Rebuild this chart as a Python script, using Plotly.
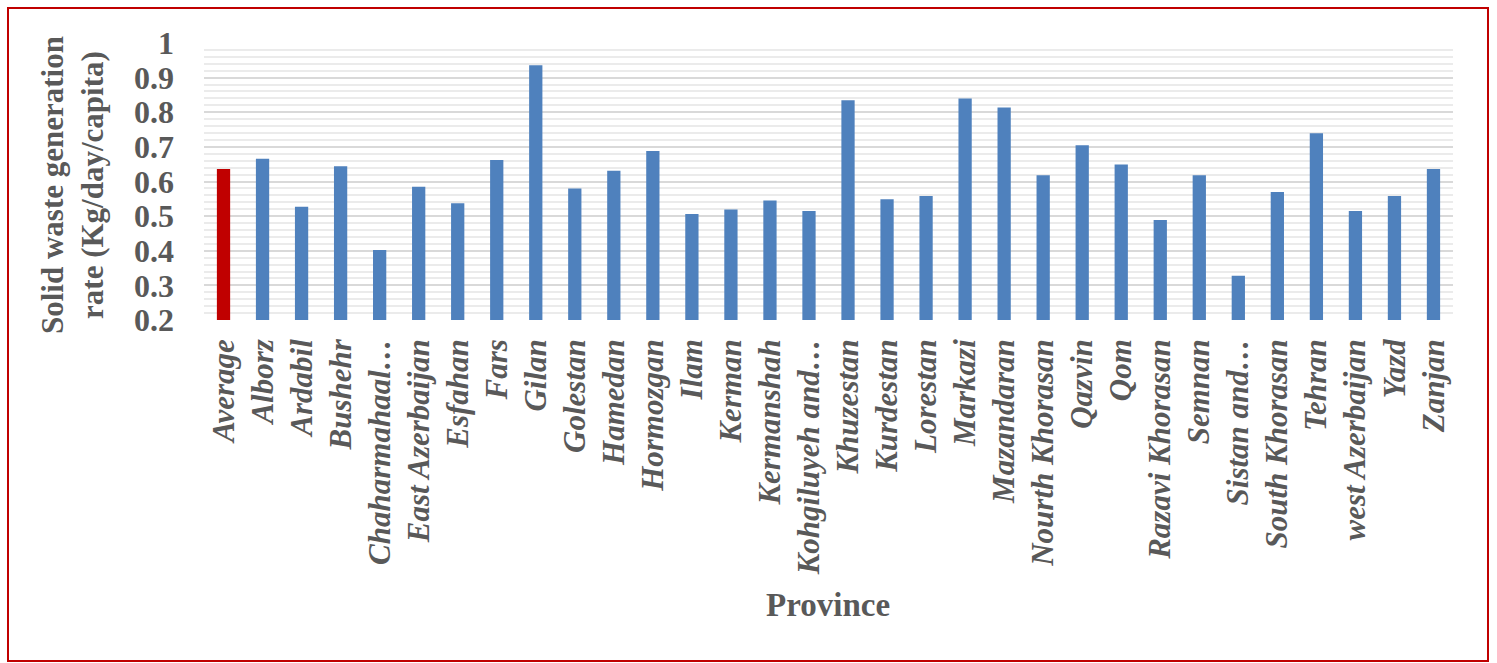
import plotly.graph_objects as go

provinces = ["Average", "Alborz", "Ardabil", "Bushehr", "Chaharmahaal…", "East Azerbaijan",
             "Esfahan", "Fars", "Gilan", "Golestan", "Hamedan", "Hormozgan", "Ilam", "Kerman",
             "Kermanshah", "Kohgiluyeh and…", "Khuzestan", "Kurdestan", "Lorestan", "Markazi",
             "Mazandaran", "Nourth Khorasan", "Qazvin", "Qom", "Razavi Khorasan", "Semnan",
             "Sistan and…", "South Khorasan", "Tehran", "west Azerbaijan", "Yazd", "Zanjan"]
rates = [0.636, 0.666, 0.527, 0.644, 0.402, 0.585,
         0.537, 0.662, 0.936, 0.580, 0.631, 0.688, 0.506, 0.519,
         0.545, 0.515, 0.835, 0.549, 0.558, 0.840,
         0.814, 0.618, 0.705, 0.649, 0.489, 0.618,
         0.328, 0.570, 0.739, 0.515, 0.558, 0.636]
y_ticks = [0.2, 0.3, 0.4, 0.5, 0.6, 0.7, 0.8, 0.9, 1.0]
y_tick_text = ["0.2", "0.3", "0.4", "0.5", "0.6", "0.7", "0.8", "0.9", "1"]

colors = ["#C00000" if p == "Average" else "#4F81BD" for p in provinces]

W, H = 1497, 663
L, R, T, B = 204, 44, 43, 343
pw, ph = W - L - R, H - T - B

def px_x(x):
    return (x - L) / pw

def px_y(y):
    return (H - B - y) / ph

gray = "#595959"
serif = "Liberation Serif, Times New Roman, serif"

fig = go.Figure(go.Bar(x=provinces, y=rates, marker=dict(color=colors, line=dict(width=0)),
                       width=0.34))

fig.update_layout(
    width=W, height=H,
    margin=dict(l=L, r=R, t=T, b=B),
    paper_bgcolor="white", plot_bgcolor="white",
    showlegend=False,
    xaxis=dict(type="category", tickangle=-90, showgrid=False, showline=False,
               tickfont=dict(family=serif, size=31, color=gray, style="italic", weight="bold"),
               ticklabelstandoff=12, ticks=""),
    yaxis=dict(range=[0.2, 1.0], tickvals=y_ticks, ticktext=y_tick_text,
               showgrid=True, gridcolor="#D9D9D9", gridwidth=2,
               zeroline=False, showline=False, ticks="",
               minor=dict(dtick=0.02, tick0=0.2, showgrid=True, gridcolor="#EBEBEB", gridwidth=2),
               tickfont=dict(family=serif, size=32, color=gray, weight="bold"),
               ticklabelstandoff=29),
    annotations=[
        dict(text="Solid waste generation<br>rate (Kg/day/capita)", xref="paper", yref="paper",
             x=px_x(72), y=px_y(185), textangle=-90, showarrow=False,
             font=dict(family=serif, size=31, color=gray, weight="bold"),
             xanchor="center", yanchor="middle"),
        dict(text="Province", xref="paper", yref="paper", x=px_x(828), y=px_y(605),
             showarrow=False, font=dict(family=serif, size=33, color=gray, weight="bold"),
             xanchor="center", yanchor="middle"),
    ],
    shapes=[dict(type="rect", xref="paper", yref="paper",
                 x0=px_x(8), x1=px_x(1488), y0=px_y(661), y1=px_y(8),
                 line=dict(color="#C00000", width=2), layer="below")],
)

fig.write_html("out.html")
